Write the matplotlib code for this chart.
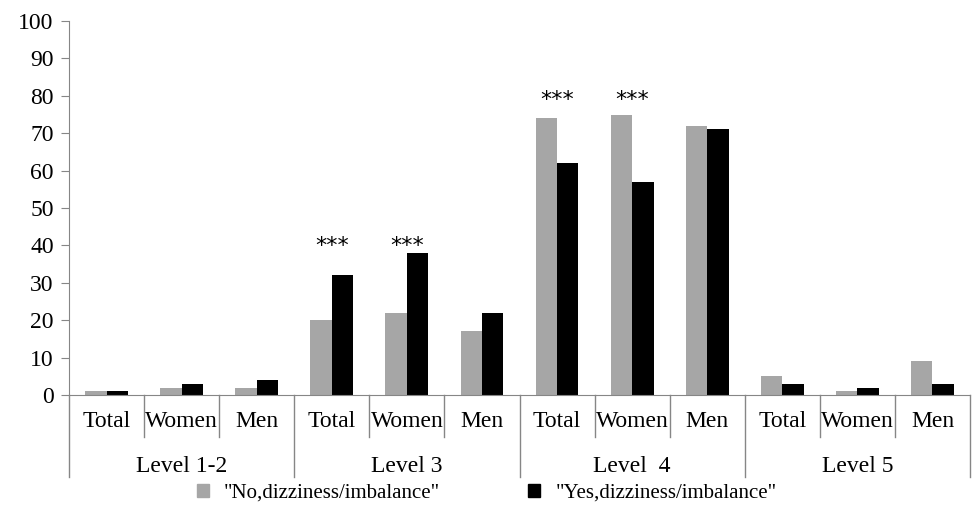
import numpy as np
import matplotlib.pyplot as plt
from matplotlib.patches import Patch

levels = ["Level 1-2", "Level 3", "Level  4", "Level 5"]
groups = ["Total", "Women", "Men"]
no_dizzy = [1, 2, 2, 20, 22, 17, 74, 75, 72, 5, 1, 9]
yes_dizzy = [1, 3, 4, 32, 38, 22, 62, 57, 71, 3, 2, 3]
# significance marks: (slot index, y of text)
stars = [(3, 39.8), (4, 39.8), (6, 78.8), (7, 78.8)]

plt.rcParams['font.family'] = ['Liberation Serif', 'DejaVu Serif']
FS = 17

fig = plt.figure(figsize=(9.73, 5.15), dpi=100)
ax = fig.add_axes([69 / 973, 1 - 395 / 515, 901 / 973, 374 / 515])

n = len(no_dizzy)
x = np.arange(n)
w = 0.285
ax.bar(x - w / 2, no_dizzy, w, color='#a6a6a6', label='"No,dizziness/imbalance"')
ax.bar(x + w / 2, yes_dizzy, w, color='#000000', label='"Yes,dizziness/imbalance"')

for i, yv in stars:
    ax.text(i, yv, "***", ha='center', va='center', fontsize=16,
            family=['DejaVu Sans'])

ax.set_xlim(-0.5, n - 0.5)
ax.set_ylim(0, 100)
ax.set_yticks(range(0, 101, 10))
ax.tick_params(axis='y', direction='out', length=6, color='#868686', labelsize=FS, pad=5)
ax.set_xticks([])
for s in ['top', 'right']:
    ax.spines[s].set_visible(False)
ax.spines['left'].set_color('#868686')
ax.spines['bottom'].set_color('#868686')

trans = ax.get_xaxis_transform()
for i in range(n):
    ax.text(i, -0.072, groups[i % 3], transform=trans, ha='center', va='center', fontsize=FS)
for b in range(n + 1):
    edge = b - 0.5
    bottom = -0.219 if b % 3 == 0 else -0.112
    ax.plot([edge, edge], [0, bottom], transform=trans, color='#868686', lw=1, clip_on=False)
for k, lev in enumerate(levels):
    ax.text(3 * k + 1, -0.19, lev, transform=trans, ha='center', va='center', fontsize=FS)

handles = [Patch(color='#a6a6a6'), Patch(color='#000000')]
fig.legend(handles, ['"No,dizziness/imbalance"', '"Yes,dizziness/imbalance"'],
           loc='center', bbox_to_anchor=(0.5, 1 - 493 / 515), ncol=2, frameon=False,
           fontsize=15, handlelength=0.58, handleheight=0.58, columnspacing=4.25, handletextpad=0.72)

fig.savefig("out.png", dpi=100)
